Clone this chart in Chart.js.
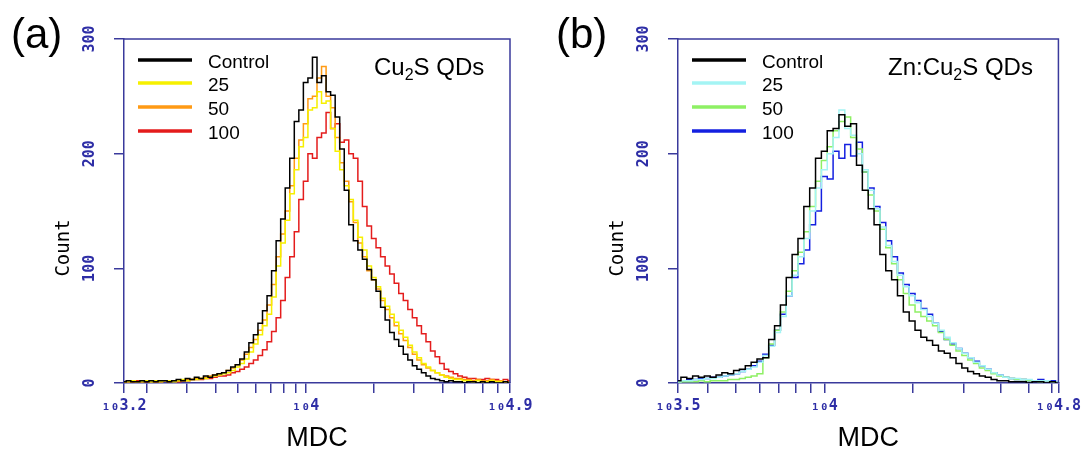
<!DOCTYPE html>
<html>
<head>
<meta charset="utf-8">
<script src="https://cdn.jsdelivr.net/npm/chart.js@4.4.1/dist/chart.umd.min.js"></script>
<style>
  html, body { margin: 0; padding: 0; background: #fff; }
  #wrap { position: relative; width: 1085px; height: 455px; }
  canvas { position: absolute; top: 0; }
</style>
</head>
<body>
<div id="wrap">
  <canvas id="cu2s" width="540" height="455" style="left:0"></canvas>
  <canvas id="zncu2s" width="545" height="455" style="left:540px"></canvas>
</div>
<script>
'use strict'

// histogram bins are in log10(MDC); first bin of each panel, common bin width
var binStartA = 3.2, binStartB = 3.5, binStep = 0.02;

var seriesNames = ['Control', '25', '50', '100'];

// (a) Cu2S QDs, counts per bin from 10^3.2
var controlA = [1,2,1,1,2,1,2,1,2,2,1,2,3,2,4,
  3,5,4,6,5,7,8,9,11,14,
  16,21,27,35,42,52,63,76,98,124,
  143,170,196,228,238,262,266,284,262,268,
  254,251,232,204,168,138,124,116,108,99,
  90,80,66,55,44,38,32,25,20,15,
  12,9,6,4,3,2,1,2,1,1,
  0,1,1,0,1,0,1,0,0,1,0];
var dose25A = [1,1,2,1,1,2,1,2,1,2,2,1,2,3,2,
  3,3,4,4,5,6,7,8,9,11,
  14,17,21,27,34,42,50,60,75,102,
  122,142,165,186,206,214,238,240,254,244,
  246,222,202,186,172,160,142,127,116,102,
  92,84,74,67,60,53,46,40,33,27,
  22,17,14,11,9,7,5,4,3,3,
  2,2,1,2,1,1,2,1,1,1,0];
var dose50A = [1,2,1,1,2,2,1,1,2,2,1,2,2,2,3,
  3,4,4,5,6,7,8,9,11,13,
  16,20,25,31,38,46,55,68,86,110,
  130,150,172,196,212,226,248,250,266,276,
  250,240,214,192,176,158,140,122,110,98,
  90,82,72,64,57,50,43,37,31,25,
  20,16,13,11,9,7,6,5,4,4,
  3,3,2,3,2,2,3,2,2,1,1];
var dose100A = [1,1,1,2,1,1,2,1,1,2,2,2,1,2,2,
  3,3,3,4,4,5,6,6,7,9,
  10,12,14,17,20,24,29,36,45,57,
  72,92,110,132,160,176,200,196,214,218,
  236,222,226,210,212,200,196,176,154,137,
  126,118,110,102,95,87,78,72,64,57,
  50,43,36,28,23,17,12,10,8,6,
  5,4,4,3,3,4,3,3,2,3,2];

// (b) Zn:Cu2S QDs, counts per bin from 10^3.5
var controlB = [2,5,4,6,5,6,5,7,9,8,
  11,12,15,18,21,22,38,50,68,92,
  112,126,154,170,196,202,220,222,234,224,
  226,190,168,152,138,112,98,90,76,62,
  54,46,40,37,33,28,26,22,17,13,
  10,8,6,5,3,2,2,1,1,1,
  0,1,1,0,1,0];
var dose25B = [1,2,2,3,3,4,4,5,6,7,
  8,10,12,14,18,24,32,44,58,76,
  94,110,126,150,170,186,200,214,238,222,
  216,200,186,168,152,136,120,106,94,84,
  76,70,64,58,52,46,40,35,30,26,
  22,18,15,12,9,7,5,4,4,3,
  3,2,2,2,1,1];
var dose50B = [0,1,1,1,2,1,2,2,2,3,
  3,4,5,6,8,22,34,46,62,80,
  98,114,132,154,176,194,206,220,228,232,
  214,204,184,164,150,134,118,104,90,78,
  68,62,58,54,50,44,38,33,28,24,
  20,17,13,11,8,6,5,4,3,3,
  2,2,1,2,1,1];
var dose100B = [1,2,3,3,4,4,5,5,6,7,
  8,10,12,15,19,25,33,46,60,76,
  92,104,116,138,150,180,178,202,196,208,
  198,210,184,170,154,140,124,110,96,86,
  78,72,65,60,52,45,38,34,30,26,
  22,19,15,12,9,7,5,4,3,3,
  2,2,3,2,2,1];

// axis ticks (MDC) and labelled decades
var xTicksA = [1585, 2000, 3000, 4000, 5000, 6000, 7000, 8000, 9000, 10000,
  20000, 30000, 40000, 50000, 60000, 70000, 79433];
var xTicksB = [3162, 4000, 5000, 6000, 7000, 8000, 9000, 10000,
  20000, 30000, 40000, 50000, 60000, 63096];
var xLabelsA = [3.2, 4, 4.9];
var xLabelsB = [3.5, 4, 4.8];
var countTicks = [0, 100, 200, 300];

var axisBlue = '#3a3a9c';
var tickBlue = '#2e2ea6';

function toPoints(counts, start) {
  return counts.map(function (c, i) { return { x: start + i * binStep, y: c }; });
}

function decor(p) {
  return {
    id: 'decor',
    afterDraw: function (chart) {
      var ctx = chart.ctx, a = chart.chartArea;
      ctx.save();
      ctx.strokeStyle = axisBlue;
      ctx.lineWidth = 1.5;
      ctx.beginPath();
      ctx.moveTo(a.left, a.top);
      ctx.lineTo(a.right, a.top);
      ctx.lineTo(a.right, a.bottom);
      ctx.stroke();

      ctx.fillStyle = '#000';
      ctx.textBaseline = 'alphabetic';
      ctx.font = '42px "Liberation Sans", Arial, sans-serif';
      ctx.fillText(p.letter, p.letterX, 48);

      ctx.save();
      ctx.translate(a.left - 60, 248);
      ctx.rotate(-Math.PI / 2);
      ctx.font = '19px "DejaVu Sans Mono", monospace';
      ctx.textAlign = 'center';
      ctx.textBaseline = 'middle';
      ctx.fillText('Count', 0, 0);
      ctx.restore();

      // legend
      var lineY = [60, 83, 107, 131];
      ctx.font = '19px "Liberation Sans", Arial, sans-serif';
      ctx.textBaseline = 'middle';
      chart.data.datasets.forEach(function (ds, i) {
        ctx.strokeStyle = ds.borderColor;
        ctx.lineWidth = 3.5;
        ctx.beginPath();
        ctx.moveTo(a.left + 14, lineY[i]);
        ctx.lineTo(a.left + 68, lineY[i]);
        ctx.stroke();
        ctx.fillStyle = '#000';
        ctx.fillText(ds.label, a.left + 84, lineY[i] + 3);
      });

      // sample name with subscript
      var x = p.nameX;
      ctx.textBaseline = 'alphabetic';
      p.name.forEach(function (part) {
        ctx.font = (part[1] ? '16px' : '24px') + ' "Liberation Sans", Arial, sans-serif';
        ctx.fillText(part[0], x, part[1] ? 80 : 75);
        x += ctx.measureText(part[0]).width;
      });
      ctx.restore();
    }
  };
}

function makePanel(id, p) {
  new Chart(document.getElementById(id), {
    type: 'line',
    data: {
      datasets: p.series.map(function (s, i) {
        return {
          label: seriesNames[i],
          data: toPoints(s, p.binStart),
          borderColor: p.colors[i],
          borderWidth: 1.5,
          pointRadius: 0,
          stepped: 'middle',
          fill: false
        };
      })
    },
    options: {
      responsive: false,
      animation: false,
      devicePixelRatio: 1,
      layout: { padding: { top: 39, right: p.padRight, bottom: 0, left: 0 } },
      plugins: { legend: { display: false }, tooltip: { enabled: false } },
      scales: {
        x: {
          type: 'linear',
          min: p.min,
          max: p.max,
          afterBuildTicks: function (s) {
            s.ticks = p.ticks.map(function (v) { return { value: Math.log10(v) }; });
          },
          afterFit: function (s) { s.height = 72; },
          ticks: {
            autoSkip: false,
            maxRotation: 0,
            padding: 4,
            color: tickBlue,
            font: { family: 'DejaVu Sans Mono', size: 15, weight: 'bold' },
            callback: function (v) {
              for (var i = 0; i < p.labels.length; i++) {
                if (Math.abs(v - p.labels[i]) < 0.001) return '\u2081\u2080' + p.labels[i];
              }
              return '';
            }
          },
          grid: { drawOnChartArea: false, tickLength: 10, color: axisBlue, lineWidth: 1.5 },
          border: { color: axisBlue, width: 1.5 },
          title: {
            display: true, text: 'MDC', color: '#000',
            font: { family: 'Liberation Sans', size: 27 },
            padding: { top: 0, bottom: 0 }
          }
        },
        y: {
          min: 0,
          max: 300,
          afterBuildTicks: function (s) {
            s.ticks = countTicks.map(function (v) { return { value: v }; });
          },
          afterFit: function (s) { s.width = p.axisLeft; },
          ticks: {
            minRotation: 90,
            maxRotation: 90,
            crossAlign: 'center',
            padding: 10,
            color: tickBlue,
            font: { family: 'DejaVu Sans Mono', size: 15, weight: 'bold' }
          },
          grid: { drawOnChartArea: false, tickLength: 10, color: axisBlue, lineWidth: 1.5 },
          border: { color: axisBlue, width: 1.5 }
        }
      }
    },
    plugins: [decor(p)]
  });
}

makePanel('cu2s', {
  series: [controlA, dose25A, dose50A, dose100A],
  colors: ['#000000', '#f6f000', '#ff9a14', '#e41c1c'],
  binStart: binStartA, min: 3.2, max: 4.9,
  ticks: xTicksA, labels: xLabelsA,
  axisLeft: 124, padRight: 30,
  letter: '(a)', letterX: 11,
  name: [['Cu', 0], ['2', 1], ['S QDs', 0]], nameX: 374
});

makePanel('zncu2s', {
  series: [controlB, dose25B, dose50B, dose100B],
  colors: ['#000000', '#a4f4f4', '#8ef064', '#1420e0'],
  binStart: binStartB, min: 3.5, max: 4.8,
  ticks: xTicksB, labels: xLabelsB,
  axisLeft: 138, padRight: 24,
  letter: '(b)', letterX: 16,
  name: [['Zn:Cu', 0], ['2', 1], ['S QDs', 0]], nameX: 348
});
</script>
</body>
</html>
